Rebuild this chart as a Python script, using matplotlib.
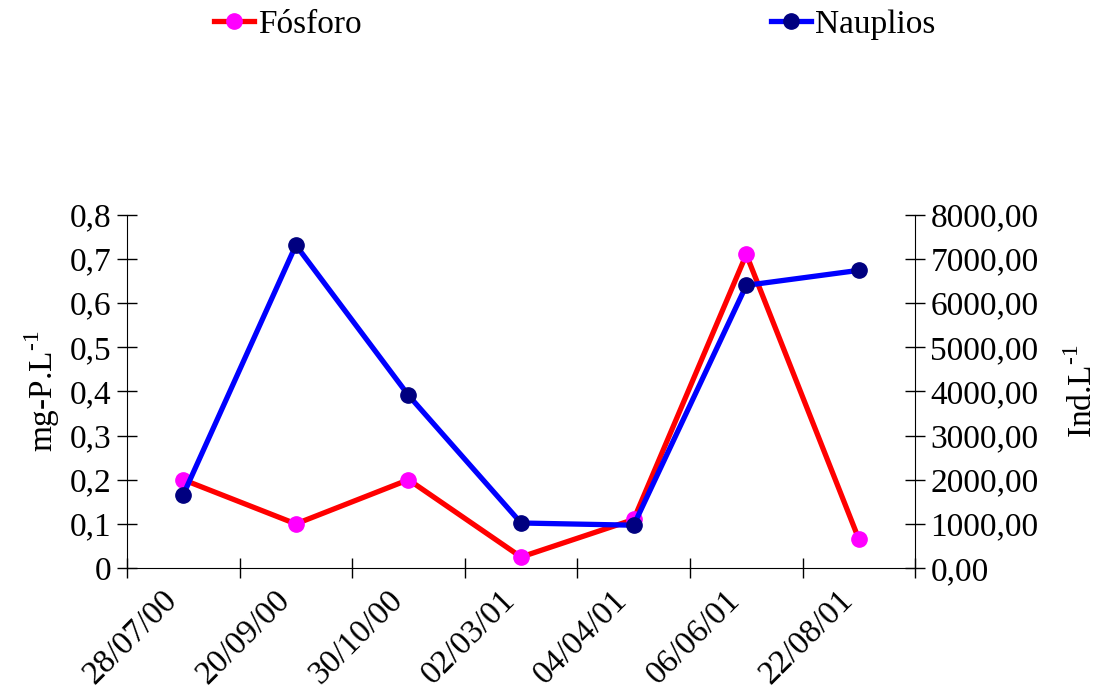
import numpy as np
import matplotlib.pyplot as plt
from matplotlib.ticker import FuncFormatter

plt.rcParams['font.family'] = ['Liberation Serif', 'DejaVu Serif']
plt.rcParams['mathtext.fontset'] = 'custom'
plt.rcParams['mathtext.rm'] = 'Liberation Serif'

fechas = ["28/07/00", "20/09/00", "30/10/00", "02/03/01", "04/04/01", "06/06/01", "22/08/01"]
fosforo = [0.20, 0.10, 0.20, 0.025, 0.11, 0.71, 0.065]
nauplios = [1660, 7310, 3910, 1020, 970, 6400, 6740]

fs = 24
x = np.arange(len(fechas))

fig = plt.figure(figsize=(11.04, 6.97), dpi=100)
ax = fig.add_axes([0.115, 0.185, 0.714, 0.507])
ax2 = ax.twinx()

l1, = ax.plot(x, fosforo, color="#FF0000", lw=3.8, marker="o", ms=11,
              mfc="#FF00FF", mec="#FF00FF", label="Fósforo")
l2, = ax2.plot(x, nauplios, color="#0000FF", lw=3.8, marker="o", ms=11,
               mfc="#000080", mec="#000080", label="Nauplios")

ax.set_xlim(-0.5, len(fechas) - 0.5)
ax.set_ylim(0, 0.8)
ax2.set_ylim(0, 8000)
ax.set_yticks(np.arange(0, 0.81, 0.1))
ax2.set_yticks(np.arange(0, 8001, 1000))
ax.yaxis.set_major_formatter(FuncFormatter(lambda v, p: "0" if abs(v) < 1e-9 else f"{v:.1f}".replace(".", ",")))
ax2.yaxis.set_major_formatter(FuncFormatter(lambda v, p: f"{v:.2f}".replace(".", ",")))

# ticks at category boundaries, labels at centers
ax.set_xticks(np.arange(-0.5, len(fechas), 1.0))
ax.set_xticklabels([])
ax.set_xticks(x, minor=True)
ax.set_xticklabels(fechas, minor=True, rotation=45, ha="right", va="top", fontsize=fs)
ax.tick_params(axis="x", which="minor", length=0, pad=12)
ax.tick_params(axis="x", which="major", direction="inout", length=14, width=1)
ax.tick_params(axis="y", direction="inout", length=14, width=1, labelsize=fs, pad=4)
ax2.tick_params(axis="y", direction="inout", length=14, width=1, labelsize=fs, pad=4)

for a in (ax, ax2):
    a.spines["top"].set_visible(False)
ax2.spines["left"].set_visible(False)
ax2.spines["bottom"].set_visible(False)
ax.spines["right"].set_visible(False)

ax.set_ylabel(r"mg-P.L$^{\text{-}1}$", fontsize=fs, labelpad=6)
ax2.set_ylabel(r"Ind.L$^{\text{-}1}$", fontsize=fs, labelpad=20)

fig.legend(handles=[l1, l2], loc="upper left", bbox_to_anchor=(0.167, 1.03), ncol=2,
           frameon=False, fontsize=fs, handlelength=1.2, handletextpad=0.1,
           columnspacing=12.3)

fig.savefig("out.png", dpi=100)
